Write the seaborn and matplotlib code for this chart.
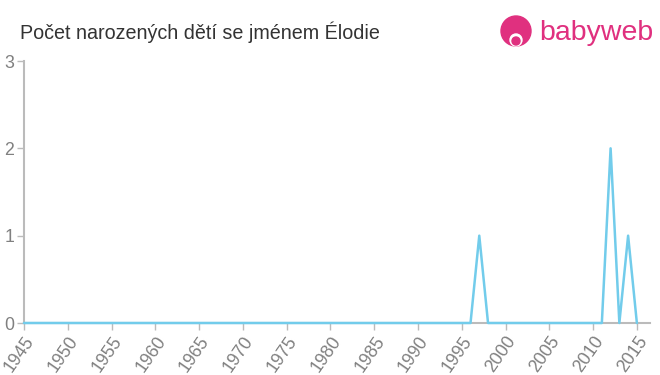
import matplotlib
matplotlib.use("Agg")
import matplotlib.pyplot as plt
import seaborn as sns
import pandas as pd
from matplotlib.patches import Circle
from matplotlib.transforms import IdentityTransform

years = list(range(1945, 2016))
counts = [0] * len(years)
peaks = {1997: 1, 2012: 2, 2014: 1}
for y, v in peaks.items():
    counts[years.index(y)] = v

x_ticks = list(range(1945, 2016, 5))
y_ticks = [0, 1, 2, 3]
title = "Počet narozených dětí se jménem Élodie"

sns.set_style("white")
plt.rcParams['font.family'] = ['Liberation Sans', 'DejaVu Sans']

df = pd.DataFrame({"rok": years, "pocet": counts})

fig = plt.figure(figsize=(6.6, 3.75), dpi=100)
ax = fig.add_axes([24/660, 52/375, 626/660, 262/375])
sns.lineplot(data=df, x="rok", y="pocet", ax=ax, color="#72cceb", linewidth=1.8, clip_on=False, zorder=5)

ax.set_xlim(1945, 2016.5)
ax.set_ylim(0, 3)
ax.set_xticks(x_ticks)
ax.set_xticklabels([str(t) for t in x_ticks], rotation=55, ha="right",
                   rotation_mode="anchor", color="#808080", fontsize=12.8)
ax.set_yticks(y_ticks)
ax.set_yticklabels([str(t) for t in y_ticks], color="#808080", fontsize=12.8)
ax.set_xlabel("")
ax.set_ylabel("")
for s in ["top", "right"]:
    ax.spines[s].set_visible(False)
for s in ["left", "bottom"]:
    ax.spines[s].set_color("#bbbbbb")
    ax.spines[s].set_linewidth(1.5)
ax.tick_params(axis="both", which="both", length=5, color="#bbbbbb", width=1, pad=2,
               bottom=True, left=True)
ax.grid(False)

fig.text(20/660, 1 - 32/375, title, fontsize=14.2, color="#333333", va="center", ha="left")

# logo
pink = "#e0307f"
fig.patches.append(Circle((516, 375 - 31), 15, transform=IdentityTransform(), color=pink))
fig.patches.append(Circle((516, 375 - 40), 6, transform=IdentityTransform(), color="white"))
fig.patches.append(Circle((516, 375 - 41), 4, transform=IdentityTransform(), color=pink))
fig.text(539/660, 1 - 33/375, "babyweb", fontsize=20.5, color=pink, va="center", ha="left")

fig.savefig("out.png", dpi=100)
